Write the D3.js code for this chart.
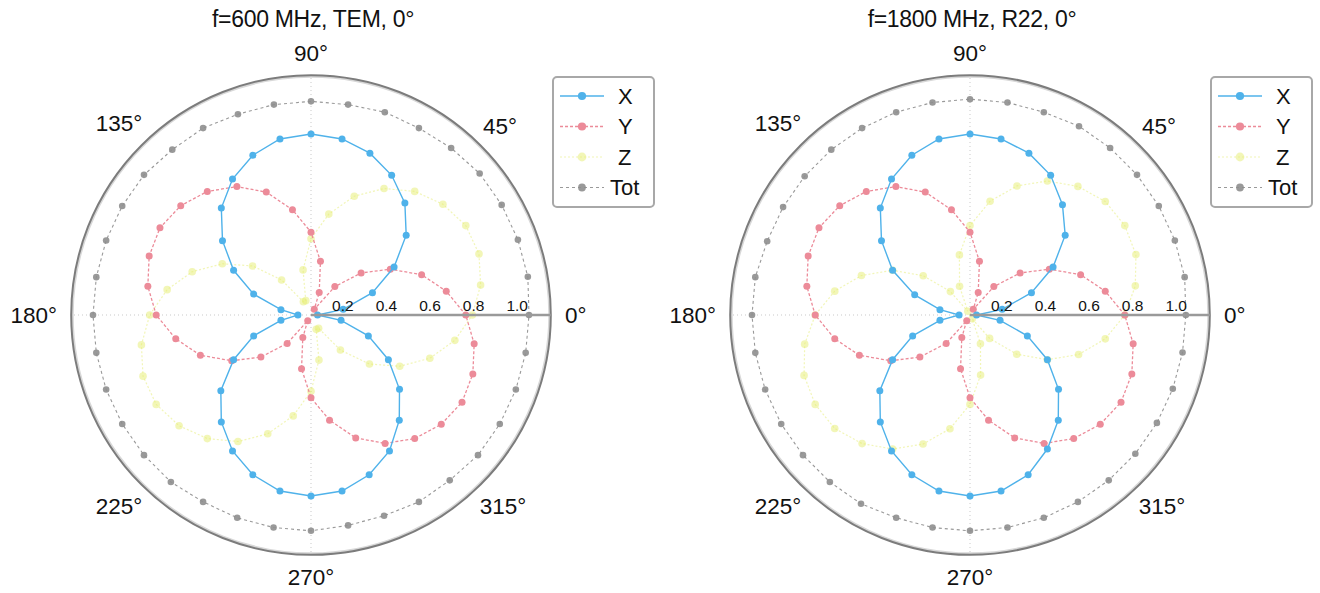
<!DOCTYPE html>
<html><head><meta charset="utf-8">
<script src="https://cdn.jsdelivr.net/npm/d3@7"></script>
<style>
body{margin:0;background:#fff}
svg{display:block}
text{font-family:"Liberation Sans",Arial,Helvetica,sans-serif;fill:#111}
</style>
</head><body>
<svg id="c" width="1320" height="593"></svg>
<script>
// ---- data ----
const angles = [0,10,20,30,40,50,60,70,80,90,100,110,120,130,140,150,160,170,
                180,190,200,210,220,230,240,250,260,270,280,290,300,310,320,330,340,350];
const titles = ["f=600 MHz, TEM, 0°", "f=1800 MHz, R22, 0°"];
const seriesNames = ["X","Y","Z","Tot"];
const radialTicks = [0.2,0.4,0.6,0.8,1.0];
const radialTickLabels = ["0.2","0.4","0.6","0.8","1.0"];
const angleTicks = [0,45,90,135,180,225,270,315];
const angleTickLabels = ["0°","45°","90°","135°","180°","225°","270°","315°"];

const leftX = [0.03,0.15,0.30,0.44,0.57,0.67,0.74,0.79,0.82,0.83,0.82,0.78,0.72,0.64,0.53,0.41,0.28,0.14,
               0.06,0.14,0.28,0.41,0.54,0.64,0.72,0.78,0.82,0.83,0.82,0.78,0.72,0.63,0.53,0.41,0.28,0.14];
const leftY = [0.71,0.63,0.54,0.42,0.30,0.17,0.03,0.11,0.25,0.38,0.49,0.60,0.68,0.74,0.78,0.80,0.79,0.76,
               0.71,0.63,0.54,0.42,0.30,0.17,0.03,0.11,0.25,0.38,0.49,0.60,0.68,0.74,0.78,0.80,0.79,0.76];
const leftZ = [0.74,0.79,0.82,0.82,0.79,0.74,0.67,0.58,0.47,0.35,0.21,0.07,0.07,0.21,0.35,0.47,0.58,0.67,
               0.74,0.79,0.82,0.82,0.79,0.74,0.67,0.58,0.47,0.35,0.21,0.07,0.07,0.21,0.35,0.47,0.58,0.67];
const leftTot = [1.00,1.01,1.01,1.01,1.01,1.00,0.99,0.99,0.98,0.98,0.98,0.98,0.99,0.99,1.00,1.00,1.00,1.00,
                 1.00,1.00,1.00,1.00,1.00,1.00,0.99,0.99,0.99,0.99,0.98,0.98,0.99,0.99,1.00,1.00,1.00,1.00];

const rightX = [0.03,0.15,0.30,0.44,0.57,0.66,0.74,0.79,0.82,0.83,0.82,0.78,0.72,0.64,0.53,0.41,0.27,0.14,
                0.05,0.14,0.28,0.41,0.54,0.64,0.72,0.78,0.82,0.83,0.82,0.78,0.71,0.63,0.53,0.41,0.28,0.14];
const rightY = [0.71,0.63,0.54,0.42,0.30,0.17,0.03,0.11,0.25,0.38,0.49,0.60,0.68,0.74,0.78,0.80,0.79,0.76,
                0.71,0.63,0.54,0.42,0.30,0.17,0.03,0.11,0.25,0.38,0.49,0.60,0.68,0.74,0.78,0.80,0.79,0.76];
const rightZ = [0.71,0.77,0.81,0.82,0.81,0.77,0.71,0.63,0.53,0.41,0.28,0.14,0.02,0.14,0.28,0.41,0.53,0.63,
                0.71,0.77,0.81,0.82,0.81,0.77,0.71,0.63,0.53,0.41,0.28,0.14,0.02,0.14,0.28,0.41,0.53,0.63];
const rightTot = [0.99,1.00,1.00,1.00,1.00,1.00,1.00,0.99,0.99,0.99,0.99,0.99,0.99,0.99,0.99,0.99,0.99,1.00,
                  1.00,1.00,1.00,1.00,1.00,1.00,1.00,0.99,0.99,0.99,0.99,0.99,0.99,0.99,0.99,0.99,0.99,0.99];

// ---- layout / style ----
const panels = [
  {cx:311, cy:315, title:titles[0], series:[leftX,leftY,leftZ,leftTot], legX:553, legY:77},
  {cx:970, cy:315, title:titles[1], series:[rightX,rightY,rightZ,rightTot], legX:1211, legY:77}
];
const styles = {
  X:  {color:"#4fb2ea", width:1.4, dash:null,  r:3.5, op:1},
  Y:  {color:"#ec8b99", width:1.3, dash:"3,2", r:3.5, op:1},
  Z:  {color:"#e6ee70", width:1.2, dash:"2,2", r:3.8, op:0.5},
  Tot:{color:"#8e8e8e", width:1.1, dash:"3,3", r:3.3, op:0.9}
};
const drawOrder = ["Z","Tot","Y","X"];

const svg = d3.select("#c");
const r = d3.scaleLinear().domain([0,1]).range([0,218]);
const rMax = 1.1;
const toRad = a => (90 - a) * Math.PI / 180;

panels.forEach(p => {
  const g = svg.append("g").attr("transform", `translate(${p.cx},${p.cy})`);

  // title
  svg.append("text").attr("x", p.cx + 2).attr("y", 27).attr("text-anchor","middle")
    .attr("font-size", 23).attr("letter-spacing", -0.3).text(p.title);

  // spokes
  [90,180,270].forEach(a => {
    const [x,y] = d3.pointRadial(toRad(a), r(rMax));
    g.append("line").attr("x1",0).attr("y1",0).attr("x2",x).attr("y2",y)
      .attr("stroke","#c9c9c9").attr("stroke-width",1).attr("stroke-dasharray","1,3");
  });

  // outer circle
  g.append("circle").attr("r", r(rMax) - 1.5).attr("fill","none")
    .attr("stroke","#d8d8d8").attr("stroke-width",2);
  g.append("circle").attr("r", r(rMax)).attr("fill","none")
    .attr("stroke","#7c7c7c").attr("stroke-width",2);

  // series
  drawOrder.forEach(name => {
    const vals = p.series[seriesNames.indexOf(name)];
    const st = styles[name];
    const data = angles.map((a,i) => ({a, v: vals[i]}));
    const line = d3.lineRadial().angle(d => toRad(d.a)).radius(d => r(d.v)).curve(d3.curveLinearClosed);
    g.append("path").attr("d", line(data)).attr("fill","none")
      .attr("stroke", st.color).attr("stroke-width", st.width).attr("opacity", st.op)
      .attr("stroke-dasharray", st.dash);
    g.selectAll(null).data(data).join("circle")
      .attr("cx", d => d3.pointRadial(toRad(d.a), r(d.v))[0])
      .attr("cy", d => d3.pointRadial(toRad(d.a), r(d.v))[1])
      .attr("r", st.r).attr("fill", st.color).attr("opacity", st.op);
  });

  // radial axis (0°)
  g.append("line").attr("x1",0).attr("y1",0).attr("x2", r(rMax)).attr("y2",0)
    .attr("stroke","#9a9a9a").attr("stroke-width",2.4);
  radialTicks.forEach((t,i) => {
    g.append("text").attr("x", r(t) - 1).attr("y", -4).attr("text-anchor","end")
      .attr("font-size", 15.5).text(radialTickLabels[i]);
  });

  // angle labels
  angleTicks.forEach((a,i) => {
    const t = g.append("text").attr("font-size", 22.5).text(angleTickLabels[i])
      .attr("text-anchor","middle").attr("dominant-baseline","central");
    const w = t.node().getComputedTextLength();
    const h = 16;
    const th = a * Math.PI / 180;
    const R = 254 + Math.hypot(Math.cos(th) * w / 2, Math.sin(th) * h / 2);
    t.attr("x", R * Math.cos(th)).attr("y", -R * Math.sin(th));
  });

  // legend
  const lg = svg.append("g").attr("transform", `translate(${p.legX},${p.legY})`);
  lg.append("rect").attr("width",101).attr("height",130).attr("rx",4)
    .attr("fill","#fff").attr("stroke","#a8a8a8").attr("stroke-width",2);
  seriesNames.forEach((name,i) => {
    const st = styles[name];
    const y = 19 + i * 30.5;
    lg.append("line").attr("x1",7).attr("x2",51).attr("y1",y).attr("y2",y)
      .attr("stroke", st.color).attr("stroke-width", st.width).attr("opacity", st.op)
      .attr("stroke-dasharray", st.dash);
    lg.append("circle").attr("cx",29).attr("cy",y).attr("r",st.r+0.6)
      .attr("fill",st.color).attr("opacity",st.op);
    lg.append("text").attr("x", name === "Tot" ? 57 : 65).attr("y", y)
      .attr("dominant-baseline","central").attr("font-size",22).text(name);
  });
});
</script>
</body></html>
